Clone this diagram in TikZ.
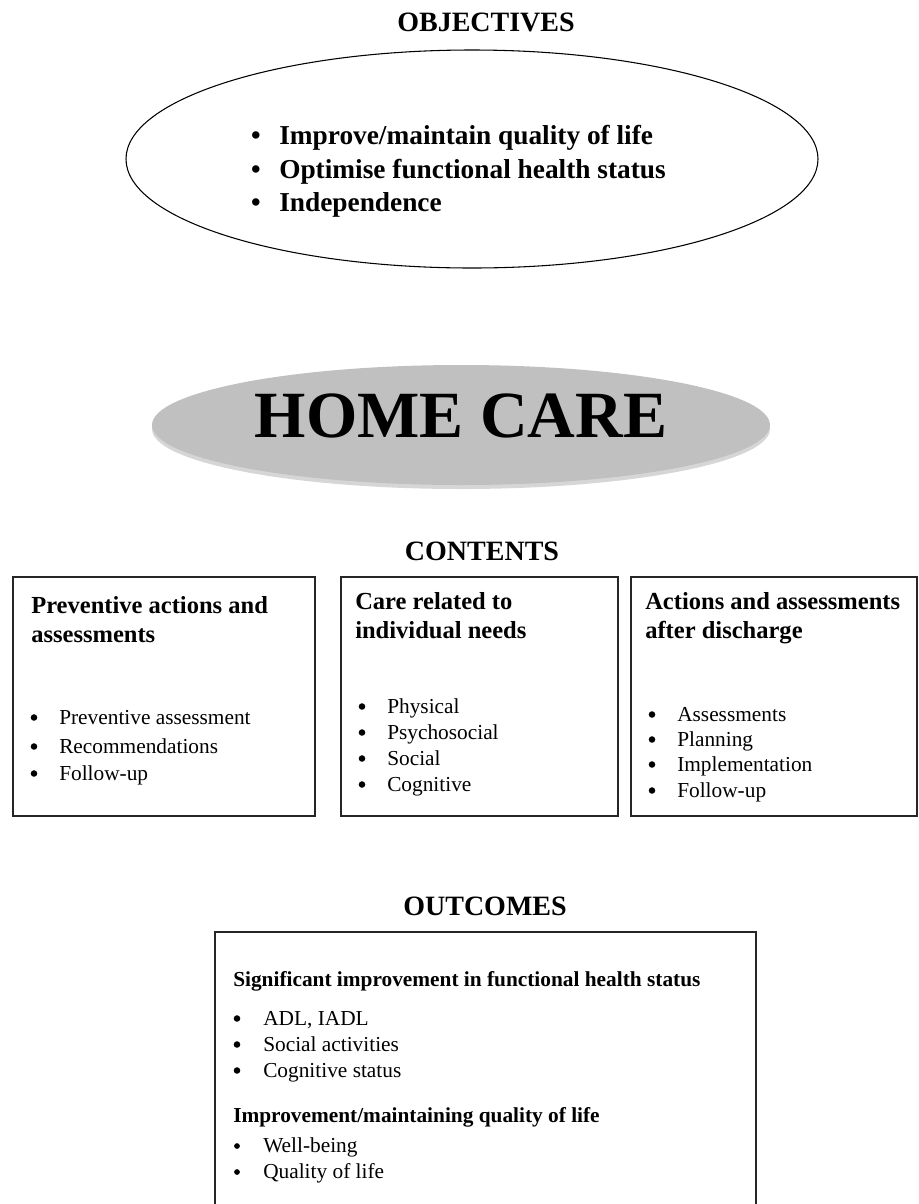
\documentclass[tikz,border=0pt]{standalone}
\usepackage{fontspec}
\setmainfont{Liberation Serif}
\begin{document}
\begin{tikzpicture}[x=0.75pt,y=-0.75pt,
  title/.style={font=\fontsize{21}{25}\selectfont\bfseries, inner sep=0pt, anchor=base},
  objtxt/.style={font=\fontsize{20.5}{25}\selectfont\bfseries, inner sep=0pt, anchor=base west},
  objbul/.style={font=\fontsize{20.5}{25}\selectfont\bfseries, inner sep=0pt, anchor=base},
  head/.style={font=\fontsize{18.4}{22}\selectfont\bfseries, inner sep=0pt, anchor=base west},
  itm/.style={font=\fontsize{16}{19}\selectfont, inner sep=0pt, anchor=base west},
  dot/.style={circle, fill=black, inner sep=0pt, minimum size=4.9pt},
  sdot/.style={circle, fill=black, inner sep=0pt, minimum size=4.3pt},
  sub/.style={font=\fontsize{16}{19}\selectfont\bfseries, inner sep=0pt, anchor=base west},
  frame/.style={draw=black!85, line width=1pt}]
\useasboundingbox (0,0) rectangle (919,1204);
\clip (0,0) rectangle (919,1204);

% Objectives
\node[title] (tobj) at (486,31) {OBJECTIVES};
\draw[line width=0.8pt] (472,159) ellipse [x radius=259.5pt, y radius=81.75pt];
\node[objbul] (ob1) at (256,144) {\textbullet};
\node[objtxt] (o1) at (279,144) {Improve/maintain quality of life};
\node[objbul] (ob2) at (256,178) {\textbullet};
\node[objtxt] (o2) at (279,178) {Optimise functional health status};
\node[objbul] (ob3) at (256,211) {\textbullet};
\node[objtxt] (o3) at (279,211) {Independence};

% Home care
\fill[fill={rgb,255:red,214;green,214;blue,214}] (461,429) ellipse [x radius=231.75pt, y radius=45pt];
\fill[fill={rgb,255:red,192;green,192;blue,192}] (461,425) ellipse [x radius=231.75pt, y radius=45pt];
\node[font=\fontsize{49.5}{55}\selectfont\bfseries, inner sep=0pt, anchor=base] (hc) at (461,437) {HOME CARE};

% Contents
\node[title] (tcon) at (482,560) {CONTENTS};
\draw[frame] (13,577) rectangle (315,816);
\draw[frame] (341,577) rectangle (618,816);
\draw[frame] (631,577) rectangle (917,816);

\node[head] (h1a) at (31,613) {Preventive actions and};
\node[head] (h1b) at (31,642) {assessments};
\node[dot] (b1a) at (34,717.5) {};
\node[itm] (i1a) at (59,724) {Preventive assessment};
\node[dot] (b1b) at (34,746.5) {};
\node[itm] (i1b) at (59,753) {Recommendations};
\node[dot] (b1c) at (34,773.5) {};
\node[itm] (i1c) at (59,780) {Follow-up};

\node[head] (h2a) at (355,609) {Care related to};
\node[head] (h2b) at (355,638) {individual needs};
\node[dot] (b2a) at (362,706.5) {};
\node[itm] (i2a) at (387,713) {Physical};
\node[dot] (b2b) at (362,732.5) {};
\node[itm] (i2b) at (387,739) {Psychosocial};
\node[dot] (b2c) at (362,758.5) {};
\node[itm] (i2c) at (387,765) {Social};
\node[dot] (b2d) at (362,784.5) {};
\node[itm] (i2d) at (387,791) {Cognitive};

\node[head] (h3a) at (645,609) {Actions and assessments};
\node[head] (h3b) at (645,638) {after discharge};
\node[dot] (b3a) at (652,714.5) {};
\node[itm] (i3a) at (677,721) {Assessments};
\node[dot] (b3b) at (652,739.5) {};
\node[itm] (i3b) at (677,746) {Planning};
\node[dot] (b3c) at (652,764.5) {};
\node[itm] (i3c) at (677,771) {Implementation};
\node[dot] (b3d) at (652,790.5) {};
\node[itm] (i3d) at (677,797) {Follow-up};

% Outcomes
\node[title] (tout) at (485,915) {OUTCOMES};
\draw[frame] (215,1230) -- (215,932) -- (756,932) -- (756,1230);
\node[sub] (s1) at (233,986) {Significant improvement in functional health status};
\node[dot] (ba) at (237,1018.5) {};
\node[itm] (ia) at (263,1025) {ADL, IADL};
\node[dot] (bb) at (237,1044.5) {};
\node[itm] (ib) at (263,1051) {Social activities};
\node[dot] (bc) at (237,1070.5) {};
\node[itm] (ic) at (263,1077) {Cognitive status};
\node[sub] (s2) at (233,1122) {Improvement/maintaining quality of life};
\node[sdot] (bd) at (237,1146) {};
\node[itm] (id) at (263,1152) {Well-being};
\node[sdot] (be) at (237,1172) {};
\node[itm] (ie) at (263,1178) {Quality of life};
\end{tikzpicture}
\end{document}
